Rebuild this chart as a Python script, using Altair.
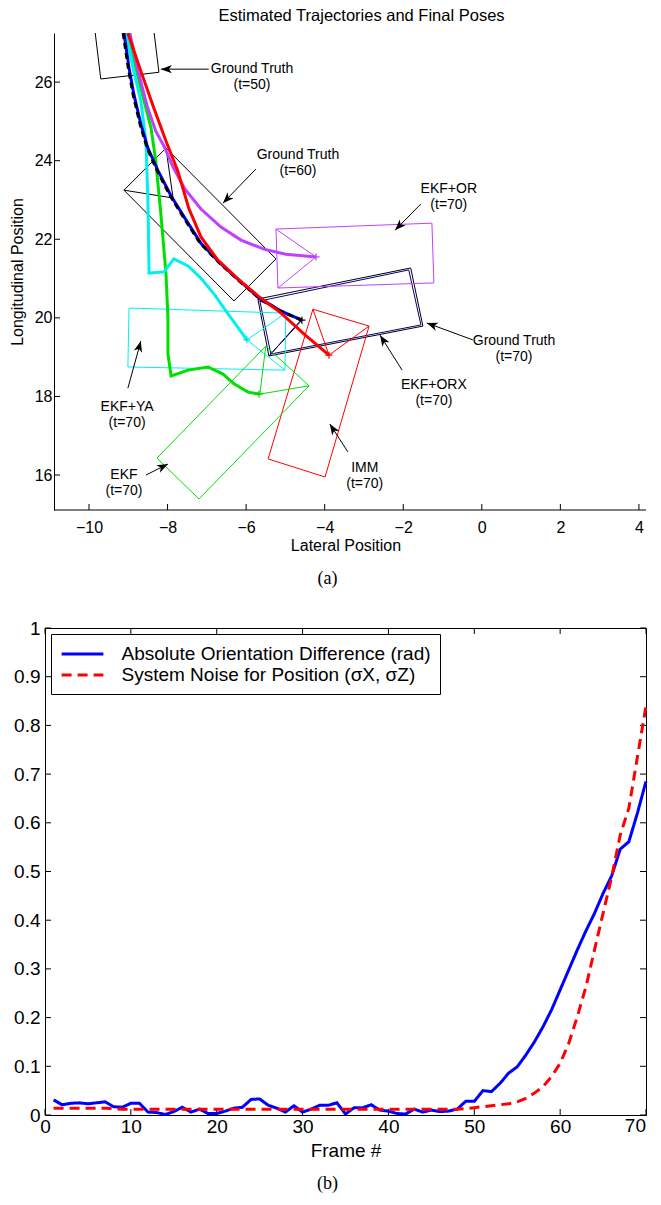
import math
import altair as alt
import pandas as pd

FONT = "Liberation Sans"
SERIF = "Liberation Serif"

# ====================== (a) Estimated trajectories ======================
# lateral (x) / longitudinal (y) positions, from the top of the plot downward
gt_x  = [-9.13, -9.00, -8.88, -8.70, -8.52, -8.26, -7.93, -7.60, -7.17, -6.65, -6.14, -5.70, -5.12, -4.58]
gt_y  = [27.25, 26.36, 25.70, 24.93, 24.32, 23.74, 23.10, 22.57, 21.90, 21.37, 20.91, 20.53, 20.17, 19.94]
orx_x = [-9.11, -8.98, -8.86, -8.68, -8.50, -8.24, -7.91, -7.58, -7.15, -6.64, -6.13, -5.70, -5.11, -4.58]
orx_y = [27.25, 26.36, 25.70, 24.93, 24.32, 23.74, 23.10, 22.57, 21.90, 21.37, 20.91, 20.53, 20.17, 19.94]
imm_x = [-9.01, -8.68, -8.35, -8.04, -7.74, -7.46, -7.15, -6.72, -6.23, -5.70, -5.11, -4.53, -3.89]
imm_y = [27.25, 26.28, 25.34, 24.50, 23.74, 22.79, 22.06, 21.47, 21.01, 20.56, 20.12, 19.59, 19.05]
or_x  = [-8.96, -8.75, -8.52, -8.30, -8.09, -7.86, -7.56, -7.15, -6.64, -6.13, -5.55, -4.99, -4.22]
or_y  = [27.25, 26.28, 25.39, 24.75, 24.37, 23.84, 23.28, 22.77, 22.31, 21.98, 21.75, 21.62, 21.55]
ya_x  = [-9.06, -8.86, -8.68, -8.55, -8.50, -8.47, -8.09, -7.84, -7.48, -7.15, -6.82, -6.46, -5.98]
ya_y  = [27.25, 26.28, 25.52, 24.50, 22.97, 21.14, 21.17, 21.50, 21.32, 21.01, 20.61, 20.10, 19.44]
ekf_x = [-9.01, -8.73, -8.42, -8.30, -8.17, -8.04, -7.99, -7.99, -7.91, -7.48, -6.97, -6.59, -6.31, -5.95, -5.67]
ekf_y = [27.25, 26.03, 24.83, 23.99, 22.64, 21.12, 20.00, 19.08, 18.52, 18.67, 18.75, 18.57, 18.32, 18.11, 18.06]

# Final poses: 4 rectangle corners (the last and first corner form the side joined to the apex)
pose_names = ["Ground Truth (t=50)", "Ground Truth (t=60)", "Ground Truth (t=70)",
              "EKF+ORX (t=70)", "EKF+OR (t=70)", "IMM (t=70)", "EKF+YA (t=70)", "EKF (t=70)"]
pose_colors = ["#000000", "#000000", "#000000", "#000080", "#c040ff", "#ff0000", "#00f0f0", "#00e000"]
pose_cx = [[-8.70, -8.22, -9.70, -10.18],
           [-8.04, -5.24, -6.31, -9.11],
           [-5.70, -1.81, -1.50, -5.42],
           [-5.65, -1.86, -1.55, -5.37],
           [-5.24, -1.27, -1.22, -5.19],
           [-2.87, -3.99, -5.44, -4.30],
           [-4.99, -8.98, -9.01, -5.01],
           [-4.40, -7.20, -8.27, -5.50]]
pose_cy = [[30.22, 26.25, 26.08, 30.05],
           [24.32, 21.50, 20.43, 23.25],
           [20.48, 21.27, 19.79, 19.03],
           [20.43, 21.22, 19.82, 19.08],
           [22.26, 22.41, 20.89, 20.76],
           [19.79, 15.95, 16.41, 20.22],
           [20.12, 20.25, 18.75, 18.67],
           [18.27, 15.39, 16.43, 19.28]]
pose_ax = [-9.32, -7.86, -4.58, -4.60, -4.22, -3.89, -5.98, -5.65]
pose_ay = [29.15, 23.05, 19.94, 19.95, 21.55, 19.05, 19.44, 18.06]

# End markers of the trajectories
end_x = [-4.58, -4.22, -3.89, -5.98, -5.67]
end_y = [19.94, 21.55, 19.05, 19.44, 18.06]
end_c = ["#000000", "#c040ff", "#ff0000", "#00e0e0", "#00d000"]

# Annotations
ann_text = ["Ground Truth\n(t=50)", "Ground Truth\n(t=60)", "EKF+OR\n(t=70)", "Ground Truth\n(t=70)",
            "EKF+ORX\n(t=70)", "IMM\n(t=70)", "EKF+YA\n(t=70)", "EKF\n(t=70)"]
ann_x = [-5.85, -4.68, -0.84, 0.82, -1.22, -2.98, -9.03, -9.11]
ann_y = [26.33, 24.14, 23.28, 19.41, 18.29, 16.18, 17.73, 16.00]
arr_x0 = [-6.95, -5.75, -1.55, -0.23, -2.03, -3.41, -9.01, -8.55]
arr_y0 = [26.33, 23.79, 22.90, 19.44, 18.67, 16.59, 18.21, 16.00]
arr_x1 = [-8.17, -6.59, -2.21, -1.40, -2.59, -3.87, -8.68, -7.99]
arr_y1 = [26.33, 22.92, 22.23, 19.87, 19.56, 17.30, 19.41, 16.28]

xa_ticks = [-10, -8, -6, -4, -2, 0, 2, 4]
ya_ticks = [16, 18, 20, 22, 24, 26]
xa_axis_span = [-10.89, 4.18]

# ====================== (b) Orientation difference ======================
frames = list(range(1, 71))
orient_diff = [0.031, 0.021, 0.024, 0.025, 0.023, 0.025, 0.027, 0.017, 0.016, 0.024,
               0.024, 0.006, 0.005, 0.001, 0.007, 0.016, 0.006, 0.012, 0.003, 0.003,
               0.008, 0.014, 0.016, 0.032, 0.033, 0.020, 0.014, 0.006, 0.019, 0.006,
               0.012, 0.020, 0.020, 0.025, 0.002, 0.015, 0.015, 0.021, 0.010, 0.008,
               0.003, 0.002, 0.012, 0.006, 0.010, 0.007, 0.008, 0.012, 0.028, 0.028,
               0.050, 0.048, 0.065, 0.086, 0.099, 0.123, 0.150, 0.181, 0.216, 0.257,
               0.298, 0.339, 0.378, 0.414, 0.455, 0.491, 0.546, 0.561, 0.620, 0.685]
sys_noise = [0.014, 0.014, 0.014, 0.014, 0.014, 0.014, 0.014, 0.013, 0.012, 0.012,
             0.012, 0.012, 0.012, 0.012, 0.012, 0.012, 0.012, 0.012, 0.012, 0.012,
             0.012, 0.012, 0.012, 0.012, 0.012, 0.012, 0.012, 0.012, 0.012, 0.012,
             0.012, 0.012, 0.012, 0.012, 0.012, 0.012, 0.012, 0.012, 0.012, 0.012,
             0.012, 0.012, 0.012, 0.012, 0.012, 0.012, 0.012, 0.012, 0.013, 0.015,
             0.017, 0.019, 0.021, 0.023, 0.027, 0.034, 0.045, 0.058, 0.079, 0.106,
             0.147, 0.202, 0.263, 0.339, 0.414, 0.489, 0.575, 0.630, 0.735, 0.840]
series_names = ["Absolute Orientation Difference (rad)", "System Noise for Position (σX, σZ)"]
xb_ticks = [0, 10, 20, 30, 40, 50, 60, 70]
xb_edge_tick = [70]
yb_ticks = [0, 0.1, 0.2, 0.3, 0.4, 0.5, 0.6, 0.7, 0.8, 0.9, 1.0]

# ---------------------------------------------------------------- panel (a)
WA, HA = 601, 477
YOFF = 9  # the y axis line sits this many pixels inside the plot rectangle
xs_a = alt.Scale(domain=[-11.12, 4.18], nice=False, zero=False)
ys_a = alt.Scale(domain=[15.11, 27.25], nice=False, zero=False)
axis_xa = alt.Axis(values=xa_ticks, title="Lateral Position", grid=False, ticks=False, domain=False,
                   labelFont=FONT, titleFont=FONT, labelFlush=False,
                   labelFontSize=16, titleFontSize=16, titleFontWeight="normal",
                   labelColor="black", titleColor="black", labelPadding=9, titlePadding=2)
axis_ya = alt.Axis(values=ya_ticks, title="Longitudinal Position", grid=False, ticks=False,
                   domainColor="black", domainWidth=1, labelFont=FONT, titleFont=FONT,
                   labelFontSize=16, titleFontSize=16, titleFontWeight="normal",
                   labelColor="black", titleColor="black", labelPadding=2, titlePadding=9,
                   minExtent=20, maxExtent=20, offset=-YOFF)


def XA(field):
    return alt.X(field, type="quantitative", scale=xs_a, axis=axis_xa)


def YA(field):
    return alt.Y(field, type="quantitative", scale=ys_a, axis=axis_ya)


layers_a = []

# bottom axis line and inward ticks
layers_a.append(alt.Chart(pd.DataFrame({"a": [xa_axis_span[0]], "b": [xa_axis_span[1]]})).mark_rule(
    color="black", strokeWidth=1).encode(x=XA("a"), x2="b", y=alt.value(HA)))
layers_a.append(alt.Chart(pd.DataFrame({"v": xa_ticks})).mark_rule(color="black", strokeWidth=1).encode(
    x=XA("v"), y=alt.value(HA), y2=alt.value(HA - 6)))
layers_a.append(alt.Chart(pd.DataFrame({"v": ya_ticks})).mark_rule(color="black", strokeWidth=1).encode(
    y=YA("v"), x=alt.value(YOFF), x2=alt.value(YOFF + 6)))

# poses (one thin outline each)
for name, col, cx, cy, axp, ayp in zip(pose_names, pose_colors, pose_cx, pose_cy, pose_ax, pose_ay):
    px = [cx[0], cx[1], cx[2], cx[3], cx[0], axp, cx[3]]
    py = [cy[0], cy[1], cy[2], cy[3], cy[0], ayp, cy[3]]
    df = pd.DataFrame({"i": list(range(len(px))), "x": px, "y": py})
    layers_a.append(alt.Chart(df).mark_line(strokeWidth=1, color=col, clip=True).encode(
        x=XA("x"), y=YA("y"), order=alt.Order("i:Q")))

# trajectories (drawing order)
traj = [
    (ekf_x, ekf_y, "#00e000", None),
    (ya_x, ya_y, "#00f0f0", None),
    (or_x, or_y, "#c040ff", None),
    (orx_x, orx_y, "#0000ff", None),
    (gt_x, gt_y, "#000000", [6, 4]),
    (imm_x, imm_y, "#ff0000", None),
]
for tx, ty, col, dash in traj:
    df = pd.DataFrame({"i": list(range(len(tx))), "x": tx, "y": ty})
    if dash:
        mk = alt.Chart(df).mark_line(color=col, strokeWidth=3, strokeDash=dash, clip=True)
    else:
        mk = alt.Chart(df).mark_line(color=col, strokeWidth=3, clip=True)
    layers_a.append(mk.encode(x=XA("x"), y=YA("y"), order=alt.Order("i:Q")))

# end markers
for ex, ey, ec in zip(end_x, end_y, end_c):
    layers_a.append(alt.Chart(pd.DataFrame({"x": [ex], "y": [ey]})).mark_point(
        shape="M-1,0L1,0M0,-1L0,1", size=49, filled=False, strokeWidth=1.2, opacity=1, color=ec).encode(
        x=XA("x"), y=YA("y")))

# annotation arrows
arr_df = pd.DataFrame({"x0": arr_x0, "y0": arr_y0, "x1": arr_x1, "y1": arr_y1})
arr_df["ang"] = [math.degrees(math.atan2(b - a, d - c)) % 360
                 for a, b, c, d in zip(arr_x0, arr_x1, arr_y0, arr_y1)]
layers_a.append(alt.Chart(arr_df).mark_rule(color="black", strokeWidth=1).encode(
    x=XA("x0"), y=YA("y0"), x2="x1", y2="y1"))
layers_a.append(alt.Chart(arr_df).mark_point(
    shape="M0,0L-0.42,1.1L0,0.8L0.42,1.1Z", size=400, filled=True, color="black",
    strokeWidth=0, opacity=1).encode(
    x=XA("x1"), y=YA("y1"), angle=alt.Angle("ang:Q", scale=None)))

# annotation texts
layers_a.append(alt.Chart(pd.DataFrame({"x": ann_x, "y": ann_y, "t": ann_text})).mark_text(
    font=FONT, fontSize=14, lineBreak="\n", lineHeight=16, align="center", baseline="middle",
    color="black").encode(x=XA("x"), y=YA("y"), text="t:N"))

chart_a = alt.layer(*layers_a).properties(
    width=WA, height=HA,
    view=alt.ViewBackground(stroke="transparent"),
    title=alt.TitleParams("(a)", orient="bottom", font=SERIF, fontSize=18, fontWeight="normal",
                          anchor="middle", dx=-18, offset=17, color="black"))

# ---------------------------------------------------------------- panel (b)
WB, HB = 601, 487
xs_b = alt.Scale(domain=[0, 70], nice=False, zero=False)
ys_b = alt.Scale(domain=[0, 1], nice=False, zero=False)
axis_xb = alt.Axis(values=[v for v in xb_ticks if v not in xb_edge_tick], title="Frame #",
                   grid=False, ticks=False, domain=False, labelFlush=False,
                   labelFont=FONT, titleFont=FONT, labelFontSize=19, titleFontSize=19,
                   titleFontWeight="normal", labelColor="black", titleColor="black",
                   labelPadding=2, titlePadding=5, labelOverlap=False)
axis_yb = alt.Axis(values=yb_ticks, title=None, grid=False, ticks=False, domain=False,
                   format=".1~f", labelFont=FONT, labelFontSize=19, labelColor="black",
                   labelPadding=5, minExtent=36, maxExtent=36)


def XB(field):
    return alt.X(field, type="quantitative", scale=xs_b, axis=axis_xb)


def YB(field):
    return alt.Y(field, type="quantitative", scale=ys_b, axis=axis_yb)


layers_b = []
xt = pd.DataFrame({"v": xb_ticks})
yt = pd.DataFrame({"v": yb_ticks})
layers_b.append(alt.Chart(xt).mark_rule(color="black", strokeWidth=1).encode(
    x=XB("v"), y=alt.value(HB), y2=alt.value(HB - 6)))
layers_b.append(alt.Chart(xt).mark_rule(color="black", strokeWidth=1).encode(
    x=XB("v"), y=alt.value(0), y2=alt.value(6)))
layers_b.append(alt.Chart(yt).mark_rule(color="black", strokeWidth=1).encode(
    y=YB("v"), x=alt.value(0), x2=alt.value(6)))
layers_b.append(alt.Chart(yt).mark_rule(color="black", strokeWidth=1).encode(
    y=YB("v"), x=alt.value(WB), x2=alt.value(WB - 6)))
# last tick label, kept inside the page edge (right aligned at the frame)
layers_b.append(alt.Chart(pd.DataFrame({"v": xb_edge_tick})).mark_text(
    font=FONT, fontSize=19, align="right", baseline="top", color="black").encode(
    x=XB("v"), y=alt.value(HB + 2), text="v:Q"))

df_b = pd.DataFrame({
    "frame": frames + frames,
    "value": orient_diff + sys_noise,
    "series": [series_names[0]] * len(frames) + [series_names[1]] * len(frames),
})
legend_b = alt.Legend(title=None, orient="none", legendX=6, legendY=6,
                      symbolType="M-2.2,0L2.2,0", symbolSize=361, symbolOffset=11.5,
                      symbolStrokeWidth=3, labelOffset=28, labelFont=FONT, labelFontSize=19,
                      labelColor="black", labelLimit=600, rowPadding=0, padding=9,
                      strokeColor="black", fillColor="white", cornerRadius=0)
layers_b.append(alt.Chart(df_b).mark_line(strokeWidth=3).encode(
    x=XB("frame"), y=YB("value"),
    color=alt.Color("series:N", scale=alt.Scale(domain=series_names, range=["#0000ff", "#ff0000"]),
                    legend=legend_b),
    strokeDash=alt.StrokeDash("series:N", scale=alt.Scale(domain=series_names, range=[[1, 0], [10, 6]]),
                              legend=legend_b)))

chart_b = alt.layer(*layers_b).properties(
    width=WB, height=HB,
    view=alt.ViewBackground(stroke="black", strokeWidth=1),
    title=alt.TitleParams("(b)", orient="bottom", font=SERIF, fontSize=18, fontWeight="normal",
                          anchor="middle", dx=-18, offset=15, color="black"))

chart = alt.vconcat(chart_a, chart_b, spacing=29).properties(
    padding=0,
    title=alt.TitleParams("Estimated Trajectories and Final Poses", font=FONT, fontSize=16.5,
                          fontWeight="normal", anchor="middle", dx=31, offset=8, color="black"),
).resolve_scale(color="independent", strokeDash="independent").resolve_legend(
    color="independent", strokeDash="independent"
).configure(background="white")

chart.save("out.html", embed_options={"renderer": "svg", "actions": False})
